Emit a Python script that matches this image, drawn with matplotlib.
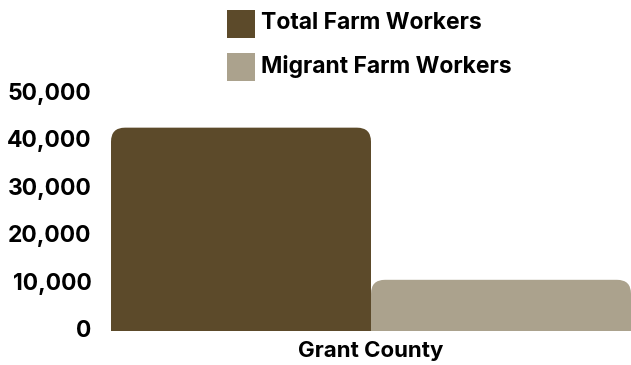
import matplotlib.pyplot as plt
import matplotlib.transforms as mtransforms
from matplotlib.patches import FancyBboxPatch, Rectangle

# farm worker counts for the county
county = "Grant County"
series = ["Total Farm Workers", "Migrant Farm Workers"]
values = [42900, 10800]
colors = ["#5C4A2A", "#ABA28D"]
yticks = [0, 10000, 20000, 30000, 40000, 50000]

plt.rcParams["font.family"] = ["Inter", "DejaVu Sans"]

W, H = 631, 365
fig = plt.figure(figsize=(W / 100, H / 100), dpi=100)
ax = fig.add_axes([111 / W, (H - 331) / H, (631 - 111) / W, (331 - 94) / H])

ax.set_xlim(-0.5, 1.5)
ax.set_ylim(0, 50000)

# rounded top corners, radius in pixels converted to data units
radius_px = 14
x_per_px = 2.0 / ax.bbox.width
y_per_px = 50000 / ax.bbox.height
r = radius_px * x_per_px
for i, (v, c) in enumerate(zip(values, colors)):
    bar = FancyBboxPatch((i - 0.5, -3000), 1.0, v + 3000,
                         boxstyle=f"round,pad=0,rounding_size={r}",
                         mutation_aspect=y_per_px / x_per_px,
                         facecolor=c, edgecolor="none")
    ax.add_patch(bar)

ax.set_yticks(yticks)
ax.set_yticklabels([f"{t:,}" for t in yticks], fontsize=16.5, fontweight="bold")
ax.set_xticks([0.5])
ax.set_xticklabels([county], fontsize=16, fontweight="bold")
ax.tick_params(length=0)
ax.tick_params(axis="y", pad=14)
ax.tick_params(axis="x", pad=7)
for s in ax.spines.values():
    s.set_visible(False)

# nudge y labels up a couple of pixels
lift = mtransforms.ScaledTranslation(0, 2.5 / 100, fig.dpi_scale_trans)
for lab in ax.get_yticklabels():
    lab.set_transform(lab.get_transform() + lift)

# legend
for j, (name, c) in enumerate(zip(series, colors)):
    top = 10 + j * 43
    fig.add_artist(Rectangle((227 / W, (H - top - 28) / H), 28 / W, 28 / H,
                             transform=fig.transFigure, facecolor=c, edgecolor="none"))
    fig.text(261 / W, (H - top - 13) / H, name, fontsize=16.5, fontweight="bold",
             va="center", ha="left")

fig.savefig("out.png", dpi=100)
